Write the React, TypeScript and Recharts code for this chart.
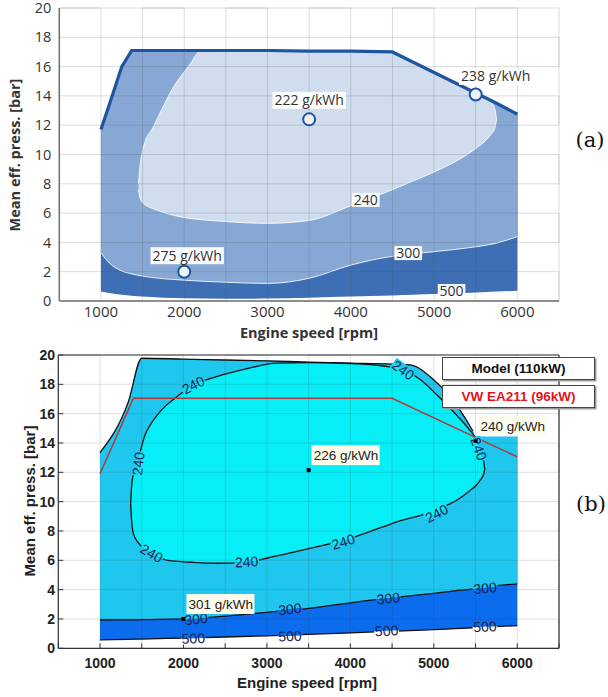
import React from 'react';
import { ComposedChart, Area, Line, Scatter, XAxis, YAxis } from 'recharts';

// ---------- shared axes ----------
const rpmTicks = [500, 1000, 1500, 2000, 2500, 3000, 3500, 4000, 4500, 5000, 5500, 6000, 6500];
const bmepTicks = [0, 2, 4, 6, 8, 10, 12, 14, 16, 18, 20];

// ---------- (a) production engine map ----------
const rpmA = [1000, 1100, 1250, 1370, 1500, 2000, 2500, 3000, 3500, 4000, 4500, 4750, 5000, 5250, 5500, 5750, 6000];
const fullLoadA = [11.7, 13.4, 16.0, 17.1, 17.1, 17.1, 17.1, 17.1, 17.05, 17.05, 17.0, 16.3, 15.6, 14.9, 14.2, 13.5, 12.75];
const iso500A = [0.65, 0.55, 0.42, 0.36, 0.3, 0.18, 0.15, 0.17, 0.22, 0.3, 0.38, 0.43, 0.48, 0.53, 0.58, 0.64, 0.7];
const iso300A = [3.3, 2.6, 2.05, 1.85, 1.7, 1.42, 1.28, 1.2, 1.55, 2.45, 3.05, 3.22, 3.37, 3.52, 3.7, 3.95, 4.4];

const rpmIsland240A = [1450, 1470, 1510, 1630, 1750, 1870, 2050, 2210, 2500, 3000, 3500, 4000, 4500, 4750, 5000, 5250, 5500, 5600, 5680, 5730, 5750];
const island240UpperA = [8.0, 9.2, 10.5, 11.9, 13.3, 14.6, 16.0, 17.1, 17.1, 17.1, 17.05, 17.05, 17.0, 16.3, 15.6, 14.9, 14.2, 13.9, 13.6, 13.1, 12.4];
const island240LowerA = [7.6, 7.0, 6.67, 6.3, 6.05, 5.85, 5.65, 5.55, 5.42, 5.3, 5.5, 6.5, 7.6, 8.2, 8.8, 9.5, 10.4, 10.85, 11.35, 11.8, 12.4];

const pointRpmA = [3500, 2000, 5500];
const pointBmepA = [12.4, 2.0, 14.1];
const pointTextA = ['222 g/kWh', '275 g/kWh', '238 g/kWh'];

const isoTagRpmA = [4180, 4690, 5210];
const isoTagBmepA = [6.9, 3.27, 0.68];
const isoTagTextA = ['240', '300', '500'];

// ---------- (b) simulated engine map ----------
const rpmB = [1000, 1340, 1500, 2000, 2500, 3000, 3500, 4000, 4500, 4714, 5000, 5250, 5470, 5500, 6000];
const envelopeB = [13.35, 16.82, 19.78, 19.72, 19.66, 19.6, 19.52, 19.45, 19.38, 19.32, 18.3, 16.75, 14.8, 14.43, 14.43];
const iso300B = [1.93, 1.94, 1.95, 2.0, 2.2, 2.45, 2.72, 3.1, 3.45, 3.58, 3.75, 3.92, 4.05, 4.08, 4.4];
const iso500B = [0.57, 0.61, 0.63, 0.7, 0.77, 0.85, 0.95, 1.05, 1.16, 1.2, 1.27, 1.34, 1.4, 1.41, 1.55];

const rpm240B = [1367, 1375, 1399, 1458, 1539, 1610, 1700, 1799, 1898, 2117, 2398, 2750, 3116, 3500, 4000, 4400, 4633, 4833, 5050, 5273, 5420, 5513, 5560, 5595, 5610];
const upper240B = [9.9, 10.8, 11.9, 12.9, 14.55, 15.3, 16.0, 16.6, 17.05, 17.95, 18.52, 19.05, 19.45, 19.48, 19.42, 19.25, 18.98, 18.35, 17.2, 15.9, 14.95, 14.2, 13.5, 12.8, 12.2];
const lower240B = [9.9, 9.0, 7.84, 7.2, 6.75, 6.45, 6.2, 6.02, 5.95, 5.86, 5.8, 5.88, 6.3, 6.8, 7.5, 8.3, 8.75, 9.05, 9.5, 10.1, 10.7, 11.15, 11.5, 11.85, 12.2];

const vwRpm = [1000, 1400, 4500, 6000];
const vwFullLoad = [11.9, 17.05, 17.05, 13.05];

const pointRpmB = [3500, 5500, 2000];
const pointBmepB = [12.15, 14.15, 2.0];
const pointTextB = ['226 g/kWh', '240 g/kWh', '301 g/kWh'];

const tag240RpmB = [2117, 1458, 1619, 2757, 3915, 5034, 4633, 5540];
const tag240BmepB = [17.95, 12.6, 6.48, 5.9, 7.27, 9.2, 18.98, 13.6];
const tag300RpmB = [2150, 3276, 4454, 5613];
const tag300BmepB = [2.0, 2.68, 3.41, 4.11];
const tag500RpmB = [2118, 3276, 4434, 5613];
const tag500BmepB = [0.68, 0.84, 1.2, 1.48];

// ---------- styling ----------
const A_DARK = '#3e6fb4';
const A_MID = '#87a8d4';
const A_LIGHT = '#d0ddef';
const A_LINE = '#1f55a0';
const A_FONT = '"Open Sans", "Noto Sans", sans-serif';

const B_IN = '#08eef7';
const B_MID = '#1fc6ee';
const B_BLUE = '#0b6cee';
const B_RED = '#b3383b';
const B_FONT = '"Liberation Sans", Arial, sans-serif';
const B_TAG = '#1b2350';

// rotation of each in-line contour tag, and the fill on its upper / lower half
const tag240Angle = [-27, -84, 30, -3, -17, -27, 36, 70];
const tag240Halves: [string, string][] = [
  [B_MID, B_IN], [B_MID, B_IN], [B_IN, B_MID], [B_IN, B_MID],
  [B_IN, B_MID], [B_IN, B_MID], [B_MID, B_IN], [B_MID, B_IN],
];
const pointLabelShiftA: [number, number][] = [[0, -19], [3, -16], [20, -18]];

const fmtRpm = (v: number) => (v % 1000 === 0 && v >= 1000 && v <= 6000 ? String(v) : '');

// ---------- tables built for the library ----------
const bandA = rpmA.map((rpm, i) => ({
  rpm,
  outer: [iso500A[i], fullLoadA[i]],
  mid: [iso300A[i], fullLoadA[i]],
  full: fullLoadA[i],
}));
const islandA = rpmIsland240A.map((rpm, i) => ({ rpm, band: [island240LowerA[i], island240UpperA[i]] }));
const pointsA = pointRpmA.map((rpm, i) => ({
  rpm, bmep: pointBmepA[i], text: pointTextA[i], dx: pointLabelShiftA[i][0], dy: pointLabelShiftA[i][1],
}));
const isoTagsA = isoTagRpmA.map((rpm, i) => ({ rpm, bmep: isoTagBmepA[i], text: isoTagTextA[i] }));

const bandB = rpmB.map((rpm, i) => ({
  rpm,
  outer: [iso500B[i], envelopeB[i]],
  mid: [iso300B[i], envelopeB[i]],
  env: envelopeB[i],
  c300: iso300B[i],
  c500: iso500B[i],
}));
const modelFullLoadB = bandB.slice(0, 13);
const island240B = rpm240B.map((rpm, i) => ({ rpm, band: [lower240B[i], upper240B[i]] }));
const vwB = vwRpm.map((rpm, i) => ({ rpm, bmep: vwFullLoad[i] }));
const pointsB = pointRpmB.map((rpm, i) => ({ rpm, bmep: pointBmepB[i], text: pointTextB[i] }));
const tagsB = [
  ...tag240RpmB.map((rpm, i) => ({
    rpm, bmep: tag240BmepB[i], text: '240', angle: tag240Angle[i], top: tag240Halves[i][0], bottom: tag240Halves[i][1],
  })),
  ...tag300RpmB.map((rpm, i) => ({ rpm, bmep: tag300BmepB[i], text: '300', angle: -6, top: B_MID, bottom: B_BLUE })),
  ...tag500RpmB.map((rpm, i) => ({ rpm, bmep: tag500BmepB[i], text: '500', angle: -2, top: B_BLUE, bottom: '#ffffff' })),
];

// Grid traced as one serpentine polyline over the tick positions, so it can sit above the fills:
// up/down every rpm tick, then back and forth along every bmep tick.
const yLo = bmepTicks[0];
const yHi = bmepTicks[bmepTicks.length - 1];
const xLo = rpmTicks[0];
const xHi = rpmTicks[rpmTicks.length - 1];
const gridTrace = [
  ...rpmTicks.flatMap((v, i) =>
    i % 2 === 0 ? [{ rpm: v, g: yLo }, { rpm: v, g: yHi }] : [{ rpm: v, g: yHi }, { rpm: v, g: yLo }]),
  ...[...bmepTicks].reverse().flatMap((v, i) =>
    i % 2 === 0 ? [{ rpm: xHi, g: v }, { rpm: xLo, g: v }] : [{ rpm: xLo, g: v }, { rpm: xHi, g: v }]),
];

// ---------- custom marks ----------
const IsoTagA = (p: any) => {
  const { cx, cy, payload } = p;
  if (cx == null || cy == null) return null;
  const w = payload.text.length * 8.2 + 3;
  return (
    <g>
      <rect x={cx - w / 2} y={cy - 7} width={w} height={14} fill="#ffffff" fillOpacity={0.95} />
      <text x={cx} y={cy} dy="0.36em" textAnchor="middle" fontSize={14} fontFamily={A_FONT} fill="#333">
        {payload.text}
      </text>
    </g>
  );
};

const PointA = (p: any) => {
  const { cx, cy, payload } = p;
  if (cx == null || cy == null) return null;
  const lx = cx + payload.dx;
  const ly = cy + payload.dy;
  const w = payload.text.length * 7.7 + 4;
  return (
    <g>
      <circle cx={cx} cy={cy} r={6} fill="#eef3fa" stroke={A_LINE} strokeWidth={2} />
      <rect x={lx - w / 2} y={ly - 8.5} width={w} height={17} fill="#ffffff" fillOpacity={0.95} />
      <text x={lx} y={ly} dy="0.36em" textAnchor="middle" fontSize={14} fontFamily={A_FONT} fill="#333">
        {payload.text}
      </text>
    </g>
  );
};

const TagB = (p: any) => {
  const { cx, cy, payload } = p;
  if (cx == null || cy == null) return null;
  const w = payload.text.length * 7.6 + 2;
  const h = 12;
  return (
    <g transform={`translate(${cx},${cy}) rotate(${payload.angle})`}>
      <rect x={-w / 2} y={-h / 2} width={w} height={h / 2} fill={payload.top} />
      <rect x={-w / 2} y={0} width={w} height={h / 2} fill={payload.bottom} />
      <text x={0} y={0} dy="0.36em" textAnchor="middle" fontSize={14} fontFamily={B_FONT} fill={B_TAG}>
        {payload.text}
      </text>
    </g>
  );
};

const PointB = (p: any) => {
  const { cx, cy, payload } = p;
  if (cx == null || cy == null) return null;
  return (
    <g>
      <rect x={cx + 3} y={cy - 25} width={68} height={20} fill="#fdfbec" />
      <text x={cx + 5} y={cy - 15} dy="0.36em" fontSize={13.5} fontFamily={B_FONT} fill="#222">
        {payload.text}
      </text>
      <rect x={cx - 2} y={cy - 2} width={4} height={4} fill="#000" />
    </g>
  );
};

// ---------- charts ----------
const ChartA = () => (
  <ComposedChart width={608} height={340} margin={{ top: 8, right: 49, bottom: 9, left: 14 }}>
    <XAxis
      type="number" dataKey="rpm" domain={[500, 6500]} ticks={rpmTicks} interval={0}
      tickFormatter={fmtRpm} height={30} tickLine={false} tickSize={0} tickMargin={5}
      axisLine={{ stroke: '#707070', strokeWidth: 1.5 }}
      tick={{ fill: '#333', fontSize: 15, fontFamily: A_FONT }}
    />
    <YAxis
      type="number" domain={[0, 20]} ticks={bmepTicks} interval={0} width={45.3}
      tickLine={false} tickSize={0} tickMargin={8}
      axisLine={{ stroke: '#707070', strokeWidth: 1.5 }}
      tick={{ fill: '#333', fontSize: 14.5, fontFamily: A_FONT }}
    />
    <Area data={bandA} dataKey="outer" type="monotone" fill={A_DARK} fillOpacity={1} stroke="none" isAnimationActive={false} />
    <Area data={bandA} dataKey="mid" type="monotone" fill={A_MID} fillOpacity={1} stroke="#ffffff" strokeOpacity={0.85} strokeWidth={1} isAnimationActive={false} />
    <Area data={islandA} dataKey="band" type="monotone" fill={A_LIGHT} fillOpacity={1} stroke="#ffffff" strokeOpacity={0.85} strokeWidth={1} isAnimationActive={false} />
    <Line data={gridTrace} dataKey="g" type="linear" stroke="#505050" strokeOpacity={0.2} strokeWidth={1} dot={false} isAnimationActive={false} />
    <Line data={bandA} dataKey="full" type="linear" stroke={A_LINE} strokeWidth={3.2} dot={false} isAnimationActive={false} />
    <Scatter data={isoTagsA} dataKey="bmep" shape={IsoTagA} isAnimationActive={false} />
    <Scatter data={pointsA} dataKey="bmep" shape={PointA} isAnimationActive={false} />
  </ComposedChart>
);

const ChartB = () => (
  <ComposedChart width={608} height={357} margin={{ top: 14, right: 48, bottom: 18.7, left: 13.3 }}>
    <XAxis
      type="number" dataKey="rpm" domain={[500, 6500]} ticks={rpmTicks} interval={0}
      tickFormatter={fmtRpm} height={30} tickSize={-5} tickMargin={15}
      tickLine={{ stroke: '#333' }} axisLine={{ stroke: '#333', strokeWidth: 1.2 }}
      tick={{ fill: '#222', fontSize: 14, fontWeight: 700, fontFamily: B_FONT }}
    />
    <XAxis
      xAxisId="top" orientation="top" type="number" dataKey="rpm" domain={[500, 6500]} ticks={rpmTicks}
      interval={0} height={1} tick={false} tickSize={-5}
      tickLine={{ stroke: '#333' }} axisLine={{ stroke: '#333', strokeWidth: 1.2 }}
    />
    <YAxis
      type="number" domain={[0, 20]} ticks={bmepTicks} interval={0} width={45}
      tickSize={-5} tickMargin={8.3}
      tickLine={{ stroke: '#333' }} axisLine={{ stroke: '#333', strokeWidth: 1.2 }}
      tick={{ fill: '#222', fontSize: 14, fontWeight: 700, fontFamily: B_FONT }}
    />
    <YAxis
      yAxisId="right" orientation="right" type="number" domain={[0, 20]} ticks={bmepTicks} interval={0}
      width={1} tick={false} tickSize={-5}
      tickLine={{ stroke: '#333' }} axisLine={{ stroke: '#333', strokeWidth: 1.2 }}
    />
    <Area data={bandB} dataKey="outer" type="monotone" fill={B_BLUE} fillOpacity={1} stroke="none" isAnimationActive={false} />
    <Area data={bandB} dataKey="mid" type="monotone" fill={B_MID} fillOpacity={1} stroke="none" isAnimationActive={false} />
    <Area data={island240B} dataKey="band" type="monotone" fill={B_IN} fillOpacity={1} stroke="#111" strokeWidth={1.3} isAnimationActive={false} />
    <Line data={gridTrace} dataKey="g" type="linear" stroke="#404040" strokeOpacity={0.16} strokeWidth={1} dot={false} isAnimationActive={false} />
    <Line data={bandB} dataKey="c300" type="monotone" stroke="#111" strokeWidth={1.3} dot={false} isAnimationActive={false} />
    <Line data={bandB} dataKey="c500" type="monotone" stroke="#111" strokeWidth={1.3} dot={false} isAnimationActive={false} />
    <Line data={modelFullLoadB} dataKey="env" type="monotone" stroke="#111" strokeWidth={1.3} dot={false} isAnimationActive={false} />
    <Line data={vwB} dataKey="bmep" type="linear" stroke={B_RED} strokeWidth={1.5} dot={false} isAnimationActive={false} />
    <Scatter data={tagsB} dataKey="bmep" shape={TagB} isAnimationActive={false} />
    <Scatter data={pointsB} dataKey="bmep" shape={PointB} isAnimationActive={false} />
  </ComposedChart>
);

const centered = (x: number, y: number, rotate = 0): React.CSSProperties => ({
  position: 'absolute',
  left: x,
  top: y,
  transform: `translate(-50%, -50%) rotate(${rotate}deg)`,
  whiteSpace: 'nowrap',
  lineHeight: 1,
});

const legendBox = (top: number): React.CSSProperties => ({
  position: 'absolute',
  left: 442,
  top,
  width: 151,
  height: 21,
  border: '1px solid #444',
  boxShadow: '1.5px 1.5px 0 #9a9a9a',
  background: '#ffffff',
  display: 'flex',
  alignItems: 'center',
  justifyContent: 'center',
  fontFamily: B_FONT,
  fontWeight: 700,
  fontSize: 13.5,
});

export default function App() {
  return (
    <div style={{ position: 'absolute', left: 0, top: 0, width: 608, height: 697, background: '#ffffff', overflow: 'hidden' }}>
      <div style={{ position: 'absolute', left: 0, top: 0 }}>
        <ChartA />
      </div>
      <div style={{ position: 'absolute', left: 0, top: 340 }}>
        <ChartB />
      </div>

      <div style={{ ...centered(15, 155, -90), fontFamily: A_FONT, fontWeight: 700, fontSize: 14.5, color: '#333' }}>
        Mean eff. press. [bar]
      </div>
      <div style={{ ...centered(309, 333), fontFamily: A_FONT, fontWeight: 700, fontSize: 14.5, color: '#333' }}>
        Engine speed [rpm]
      </div>
      <div style={{ ...centered(29, 501, -90), fontFamily: B_FONT, fontWeight: 700, fontSize: 15, color: '#222' }}>
        Mean eff. press. [bar]
      </div>
      <div style={{ ...centered(307, 682), fontFamily: B_FONT, fontWeight: 700, fontSize: 15, color: '#222' }}>
        Engine speed [rpm]
      </div>

      <div style={{ ...centered(590, 140), fontFamily: '"DejaVu Serif", serif', fontSize: 21, color: '#111' }}>(a)</div>
      <div style={{ ...centered(591, 504), fontFamily: '"DejaVu Serif", serif', fontSize: 21, color: '#111' }}>(b)</div>

      <div style={{ ...legendBox(357), color: '#111' }}>Model (110kW)</div>
      <div style={{ ...legendBox(385), color: '#e3141b' }}>VW EA211 (96kW)</div>
    </div>
  );
}
